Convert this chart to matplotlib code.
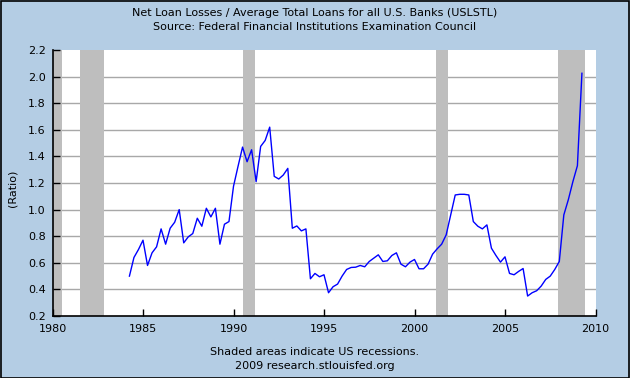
import matplotlib
matplotlib.use("Agg")
import matplotlib.pyplot as plt
import pandas as pd
from matplotlib.patches import Rectangle

# ---- data ----
first_quarter = "1984Q2"
last_quarter = "2009Q2"
ratio = [
    0.50, 0.64, 0.70, 0.77, 0.58, 0.675, 0.72, 0.855, 0.74, 0.86, 0.905, 1.00,
    0.75, 0.795, 0.82, 0.935, 0.875, 1.01, 0.945, 1.01, 0.74, 0.89, 0.91, 1.175,
    1.325, 1.47, 1.36, 1.45, 1.21, 1.475, 1.52, 1.62, 1.25, 1.23, 1.26, 1.31,
    0.86, 0.877, 0.84, 0.855, 0.48, 0.52, 0.495, 0.51, 0.375, 0.42, 0.44, 0.50,
    0.55, 0.565, 0.567, 0.58, 0.57, 0.61, 0.635, 0.66, 0.61, 0.615, 0.655, 0.675,
    0.59, 0.57, 0.605, 0.625, 0.555, 0.555, 0.59, 0.665, 0.705, 0.74, 0.81, 0.96,
    1.11, 1.115, 1.115, 1.11, 0.91, 0.875, 0.855, 0.885, 0.71, 0.655, 0.605, 0.645,
    0.52, 0.51, 0.535, 0.557, 0.35, 0.375, 0.39, 0.425, 0.475, 0.50, 0.55, 0.61,
    0.96, 1.075, 1.21, 1.33, 2.025,
]
rec_start = [1980.0, 1981.5, 1990.5, 2001.17, 2007.92]
rec_end = [1980.5, 1982.83, 1991.17, 2001.83, 2009.42]
x_ticks = [1980, 1985, 1990, 1995, 2000, 2005, 2010]
y_ticks = [0.2, 0.4, 0.6, 0.8, 1.0, 1.2, 1.4, 1.6, 1.8, 2.0, 2.2]
title_lines = ["Net Loan Losses / Average Total Loans for all U.S. Banks (USLSTL)",
               "Source: Federal Financial Institutions Examination Council"]
footer_lines = ["Shaded areas indicate US recessions.", "2009 research.stlouisfed.org"]
ylabel = "(Ratio)"

periods = pd.period_range(first_quarter, last_quarter, freq="Q")
dates = [p.year + (p.quarter - 1) / 4 for p in periods]

# ---- style ----
BG = "#B4CDE4"
W, H = 630, 378
fig = plt.figure(figsize=(W / 100, H / 100), dpi=100, facecolor=BG)
plt.rcParams["font.family"] = ["DejaVu Sans"]
FS = 8.0

left, right, top, bottom = 52.5, 595.5, 50, 316
ax = fig.add_axes([left / W, 1 - bottom / H, (right - left) / W, (bottom - top) / H])
ax.set_facecolor("white")

for yv in y_ticks[1:-1]:
    ax.axhline(yv, color="#A8A8A8", lw=1, zorder=0.5)
for s, e in zip(rec_start, rec_end):
    ax.axvspan(s, e, color="#BEBEBE", lw=0, zorder=1)

ax.plot(dates, ratio, color="#0000FF", lw=1.0, zorder=3)

ax.set_xlim(1980, 2010)
ax.set_ylim(0.2, 2.2)
ax.set_xticks(x_ticks)
ax.set_yticks(y_ticks)
ax.set_xticklabels([str(v) for v in x_ticks], fontsize=FS)
ax.set_yticklabels([f"{v:.1f}" for v in y_ticks], fontsize=FS)
ax.tick_params(direction="in", length=5, width=1, color="black")
ax.tick_params(axis="x", pad=6)
ax.tick_params(axis="y", pad=5)
for sp in ["top", "right"]:
    ax.spines[sp].set_visible(False)
for sp in ["left", "bottom"]:
    ax.spines[sp].set_color("black")
    ax.spines[sp].set_linewidth(1.2)

fig.text(13 / W, 1 - 188 / H, ylabel, rotation=90, ha="center", va="center", fontsize=FS)
fig.text(315 / W, 1 - 13 / H, title_lines[0], ha="center", va="center", fontsize=FS)
fig.text(315 / W, 1 - 27 / H, title_lines[1], ha="center", va="center", fontsize=FS)
fig.text(315 / W, 1 - 352 / H, footer_lines[0], ha="center", va="center", fontsize=FS)
fig.text(315 / W, 1 - 366 / H, footer_lines[1], ha="center", va="center", fontsize=FS)

fig.patches.append(Rectangle((0.001, 0.001), 0.997, 0.996, transform=fig.transFigure,
                             fill=False, edgecolor="black", lw=1.2))

fig.savefig("out.png", dpi=100, facecolor=BG)
